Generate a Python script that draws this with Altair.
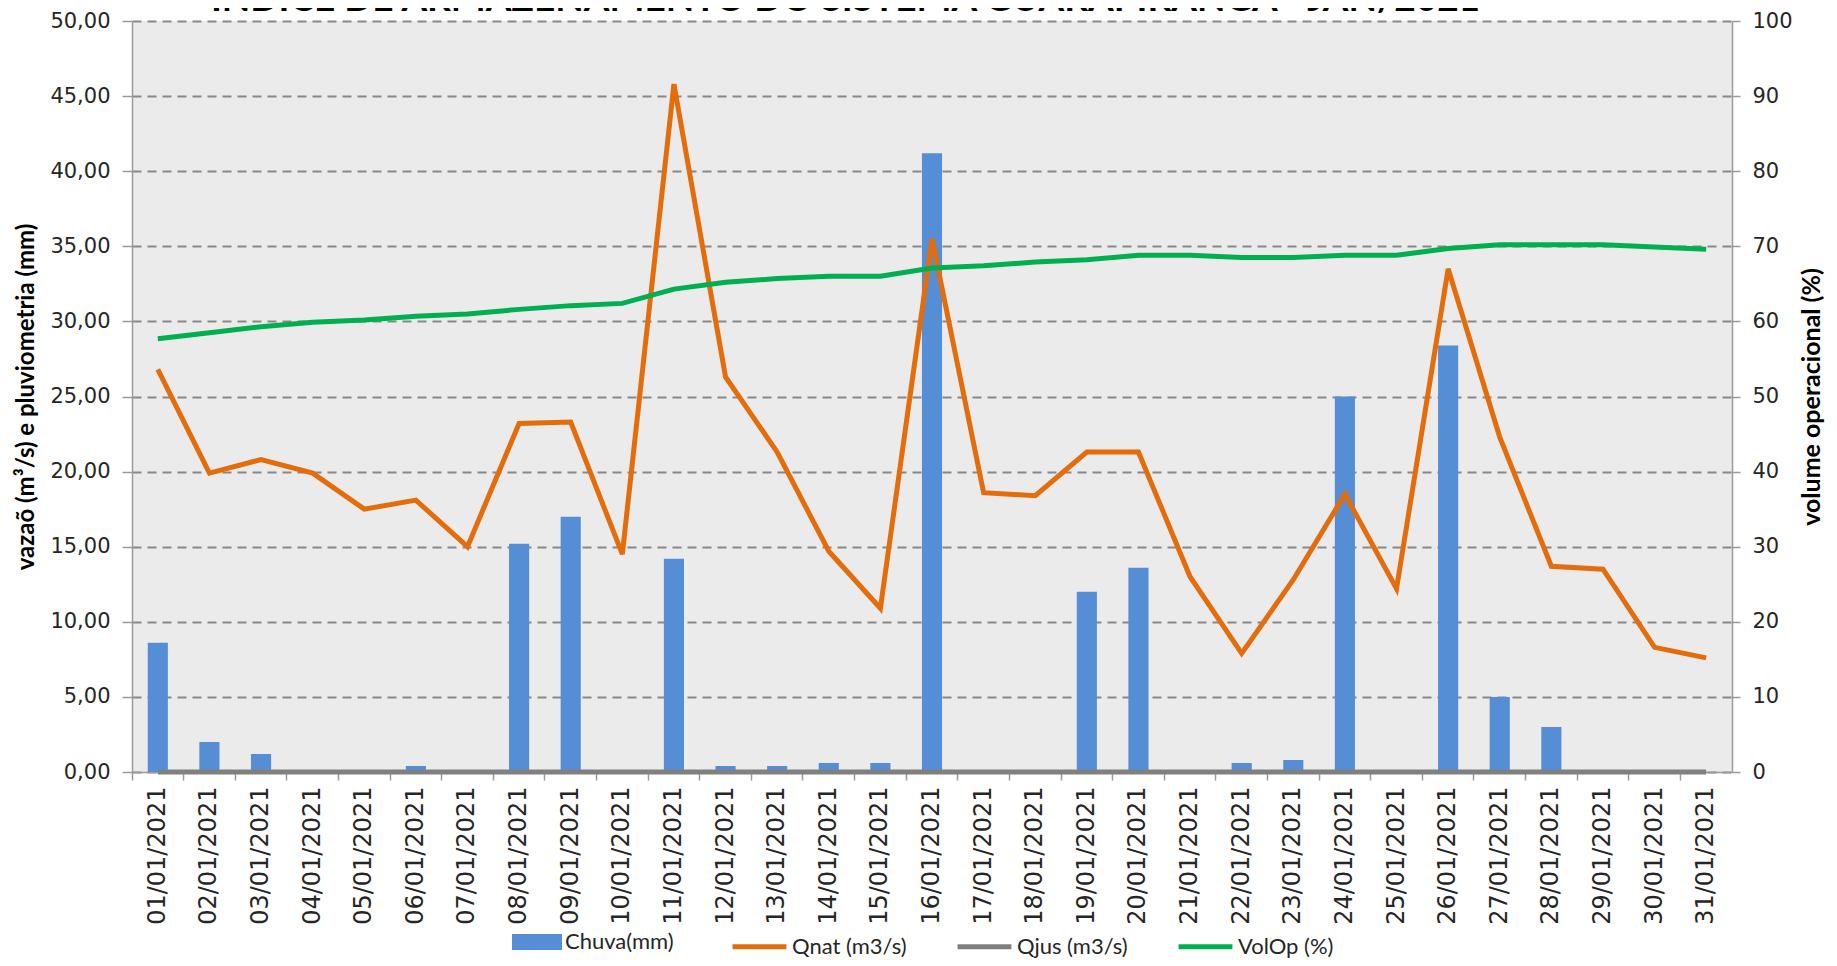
import altair as alt
import pandas as pd

# ---- data ----
datas = [f"{d:02d}/01/2021" for d in range(1, 32)]
chuva = [8.6, 2.0, 1.2, 0.0, 0.0, 0.4, 0.0, 15.2, 17.0, 0.0, 14.2, 0.4, 0.4, 0.6, 0.6,
         41.2, 0.0, 0.0, 12.0, 13.6, 0.0, 0.6, 0.8, 25.0, 0.0, 28.4, 5.0, 3.0, 0.0, 0.0, 0.0]
qnat = [26.8, 19.9, 20.8, 19.9, 17.5, 18.1, 15.0, 23.2, 23.3, 14.5, 45.8, 26.3, 21.3, 14.7, 10.9,
        35.5, 18.6, 18.4, 21.3, 21.3, 13.0, 7.9, 12.8, 18.5, 12.2, 33.5, 22.3, 13.7, 13.5, 8.3, 7.6]
qjus = [0.0, 0.0, 0.0, 0.0, 0.0, 0.0, 0.0, 0.0, 0.0, 0.0, 0.0, 0.0, 0.0, 0.0, 0.0,
        0.0, 0.0, 0.0, 0.0, 0.0, 0.0, 0.0, 0.0, 0.0, 0.0, 0.0, 0.0, 0.0, 0.0, 0.0, 0.0]
volop = [57.7, 58.5, 59.3, 59.9, 60.2, 60.7, 61.0, 61.6, 62.1, 62.4, 64.3, 65.2, 65.7, 66.0, 66.0,
         67.1, 67.4, 67.9, 68.2, 68.8, 68.8, 68.5, 68.5, 68.8, 68.8, 69.7, 70.2, 70.2, 70.2, 69.9, 69.6]

serie_bar = "Chuva(mm)"
series_lines = ["Qnat (m3/s)", "Qjus (m3/s)", "VolOp (%)"]
left_ticks = [0, 5, 10, 15, 20, 25, 30, 35, 40, 45, 50]
right_ticks = [0, 10, 20, 30, 40, 50, 60, 70, 80, 90, 100]

titulo = "ÍNDICE DE ARMAZENAMENTO DO SISTEMA GUARAPIRANGA - JAN/2021"
titulo_esq = "vazaõ (m³/s) e pluviometria (mm)"
titulo_dir = "volume operacional (%)"

# ---- tables ----
df_bar = pd.DataFrame({"data": datas, "valor": chuva, "serie": serie_bar})
df_left = pd.concat([
    pd.DataFrame({"data": datas, "valor": qnat, "serie": series_lines[0]}),
    pd.DataFrame({"data": datas, "valor": qjus, "serie": series_lines[1]}),
])
df_right = pd.DataFrame({"data": datas, "valor": volop, "serie": series_lines[2]})

W, H = 1600, 751

x_enc = alt.X(
    "data:O", sort=datas, title=None,
    scale=alt.Scale(paddingInner=0, paddingOuter=0),
    axis=alt.Axis(
        labelAngle=-90, bandPosition=0,
        labelFont="DejaVu Sans", labelFontSize=24, labelColor="#262626",
        labelPadding=6, tickSize=8, tickColor="#9a9a9a", tickWidth=1.5,
        domainColor="#9a9a9a", domainWidth=1.5, grid=False,
    ),
)

left_axis = alt.Axis(
    values=left_ticks, title=titulo_esq,
    labelExpr="replace(format(datum.value, '.2f'), '.', ',')",
    labelFont="DejaVu Sans", labelFontSize=21, labelColor="#262626",
    labelPadding=12, tickSize=10, tickColor="#9a9a9a", tickWidth=1.5,
    domainColor="#9a9a9a", domainWidth=1.5,
    grid=True, gridDash=[9, 6], gridColor="#888888", gridWidth=2,
    titleFont="Lato", titleFontSize=24, titleFontWeight="bold", titleColor="black",
    titlePadding=11,
)
left_scale = alt.Scale(domain=[0, 50], nice=False, zero=True)

bars = alt.Chart(df_bar).mark_bar(width=alt.RelativeBandSize(0.39)).encode(
    x=x_enc,
    y=alt.Y("valor:Q", scale=left_scale, axis=left_axis),
    fill=alt.Fill(
        "serie:N", title=None,
        scale=alt.Scale(domain=[serie_bar], range=["#558ed5"]),
        legend=alt.Legend(
            orient="none", legendX=380, legendY=896, direction="horizontal",
            symbolType="M-1,-0.32H1V0.32H-1Z", symbolSize=2500, symbolStrokeWidth=0,
            labelFont="Lato", labelFontSize=22, labelColor="#262626", labelOffset=3,
        ),
    ),
)

stroke_enc = alt.Stroke(
    "serie:N", title=None,
    scale=alt.Scale(domain=series_lines, range=["#e46c0a", "#808080", "#00b050"]),
    legend=alt.Legend(
        orient="none", legendX=598, legendY=896, direction="horizontal",
        symbolType="stroke", symbolSize=2900, symbolStrokeWidth=5,
        labelFont="Lato", labelFontSize=22, labelColor="#262626", labelOffset=3,
        columnPadding=40,
    ),
)

lines_left = alt.Chart(df_left).mark_line(strokeWidth=5).encode(
    x=alt.X("data:O", sort=datas),
    y=alt.Y("valor:Q", scale=left_scale, axis=left_axis),
    stroke=stroke_enc,
)

left_layer = alt.layer(bars, lines_left)

line_right = alt.Chart(df_right).mark_line(strokeWidth=5).encode(
    x=alt.X("data:O", sort=datas),
    y=alt.Y(
        "valor:Q", scale=alt.Scale(domain=[0, 100], nice=False),
        axis=alt.Axis(
            orient="right", values=right_ticks, title=titulo_dir, format="d",
            labelFont="DejaVu Sans", labelFontSize=21, labelColor="#262626",
            labelPadding=12, tickSize=8, tickColor="#9a9a9a", tickWidth=1.5,
            domainColor="#9a9a9a", domainWidth=1.5, grid=False,
            titleFont="Lato", titleFontSize=25, titleFontWeight="bold", titleColor="black",
            titleAngle=270, titlePadding=32,
        ),
    ),
    stroke=stroke_enc,
)

chart = alt.layer(left_layer, line_right).resolve_scale(y="independent").properties(
    width=W, height=H,
    autosize=alt.AutoSizeParams(type="none"),
    padding={"left": 124, "top": 13, "right": 97, "bottom": 186},
    title=alt.Title(
        titulo, anchor="start", dx=196, dy=9, offset=0, fontSize=37, font="Lato",
        fontWeight="bold", color="black",
    ),
).configure_view(fill="#ebebeb", stroke=None)

chart.save("out.html", embed_options={"renderer": "svg", "actions": False})
